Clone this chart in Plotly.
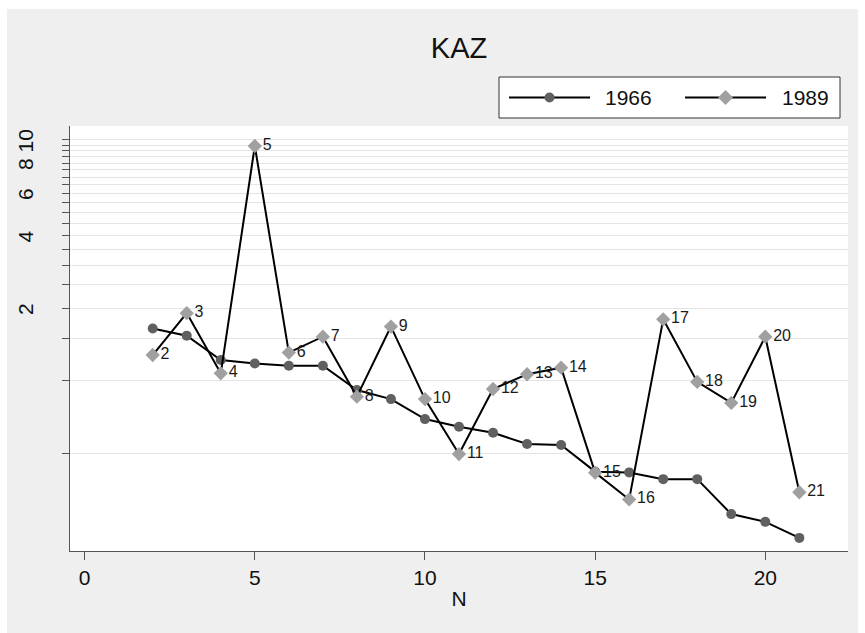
import plotly.graph_objects as go

# ---- data ----
N = list(range(2, 22))
y1966 = [1.65, 1.54, 1.22, 1.18, 1.155, 1.155, 0.916, 0.84, 0.694, 0.645,
         0.609, 0.547, 0.542, 0.42, 0.417, 0.391, 0.391, 0.28, 0.26, 0.223]
y1989 = [1.28, 1.91, 1.075, 9.43, 1.31, 1.525, 0.86, 1.68, 0.84, 0.497,
         0.925, 1.065, 1.134, 0.416, 0.322, 1.80, 0.99, 0.81, 1.525, 0.345]
point_labels = [str(n) for n in N]
series_names = ["1966", "1989"]
title_text = "KAZ"
x_title = "N"
x_ticks = [0, 5, 10, 15, 20]
y_grid = [0.5 * k for k in range(1, 21)]
y_labeled = [2, 4, 6, 8, 10]

FONT = "Liberation Sans, Arial, sans-serif"
C1966 = "#606060"
C1989 = "#a0a0a0"

fig = go.Figure()
fig.add_trace(go.Scatter(
    x=N, y=y1966, name=series_names[0], mode="lines+markers",
    line=dict(color="#000000", width=2),
    marker=dict(symbol="circle", size=10, color=C1966, line=dict(width=0)),
))
fig.add_trace(go.Scatter(
    x=N, y=y1989, name=series_names[1], mode="lines+markers+text",
    text=point_labels, textposition="middle right",
    textfont=dict(family=FONT, size=16, color="#1a1a1a"),
    line=dict(color="#000000", width=2),
    marker=dict(symbol="diamond", size=11, color=C1989, line=dict(width=0)),
))

L, R, T, B = 70, 17, 126, 82
W, H = 865, 633
pw, ph = W - L - R, H - T - B

def px_x(px):
    return (px - L) / pw

def px_y(py):
    return (H - B - py) / ph

# ---- legend drawn by hand (Stata style: line-marker-line, then label) ----
leg_box = (499, 77, 840, 118)
leg_y = 97.5
leg_items = [  # (line start, line end, label x, series index)
    (509, 590, 603, 0),
    (685, 766, 780, 1),
]
shapes = [
    dict(type="rect", xref="paper", yref="paper", layer="below",
         x0=px_x(7), x1=px_x(858), y0=px_y(633), y1=px_y(9),
         fillcolor="#efefef", line=dict(width=0)),
    dict(type="rect", xref="paper", yref="paper", layer="below",
         x0=0, x1=1, y0=0, y1=1,
         fillcolor="white", line=dict(width=0)),
    dict(type="rect", xref="paper", yref="paper", layer="above",
         x0=px_x(leg_box[0]), x1=px_x(leg_box[2]),
         y0=px_y(leg_box[3]), y1=px_y(leg_box[1]),
         fillcolor="white", line=dict(color="#333333", width=1)),
]
annotations = []
for x0, x1, tx, i in leg_items:
    shapes.append(dict(type="line", xref="paper", yref="paper", layer="above",
                       x0=px_x(x0), x1=px_x(x1), y0=px_y(leg_y), y1=px_y(leg_y),
                       line=dict(color="#000000", width=2)))
    cx = (x0 + x1) / 2
    if i == 0:
        r = 5
        shapes.append(dict(type="circle", xref="paper", yref="paper", layer="above",
                           x0=px_x(cx - r), x1=px_x(cx + r),
                           y0=px_y(leg_y + r), y1=px_y(leg_y - r),
                           fillcolor=C1966, line=dict(width=0)))
    else:
        h = 7.5
        pts = [(cx - h, leg_y), (cx, leg_y - h), (cx + h, leg_y), (cx, leg_y + h)]
        path = "M " + " L ".join(f"{px_x(a):.5f},{px_y(b):.5f}" for a, b in pts) + " Z"
        shapes.append(dict(type="path", xref="paper", yref="paper", layer="above",
                           path=path, fillcolor=C1989, line=dict(width=0)))
    annotations.append(dict(text=series_names[i], xref="paper", yref="paper",
                            x=px_x(tx), y=px_y(leg_y), xanchor="left", yanchor="middle",
                            showarrow=False,
                            font=dict(family=FONT, size=21, color="#111111")))

fig.update_layout(
    width=W, height=H,
    margin=dict(l=L, r=R, t=T, b=B, pad=0, autoexpand=False),
    paper_bgcolor="white", plot_bgcolor="white",
    font=dict(family=FONT, size=20, color="#111111"),
    title=dict(text=title_text, xref="container", yref="container",
               x=459 / W, xanchor="center",
               y=1 - 48 / H, yanchor="middle",
               font=dict(family=FONT, size=29, color="#111111")),
    showlegend=False,
    hovermode=False,
    shapes=shapes,
    annotations=annotations,
)

fig.update_xaxes(
    automargin=False,
    range=[-0.43, 22.43], tickvals=x_ticks, ticktext=[str(v) for v in x_ticks],
    showgrid=False, zeroline=False,
    showline=True, linecolor="#555555", linewidth=1.3,
    ticks="outside", ticklen=8, tickcolor="#555555", tickwidth=1.3,
    tickfont=dict(family=FONT, size=21, color="#111111"),
    title=dict(text=x_title, font=dict(family=FONT, size=21, color="#111111"),
               standoff=2),
)
fig.update_yaxes(
    automargin=False,
    type="log", range=[-0.706, 1.0575],
    tickvals=y_grid,
    ticktext=[(str(int(v)) if v in y_labeled else "") for v in y_grid],
    tickangle=-90,
    showgrid=True, gridcolor="#e4e4e4", gridwidth=1.3,
    zeroline=False,
    showline=True, linecolor="#555555", linewidth=1.3,
    ticks="outside", ticklen=7, tickcolor="#555555", tickwidth=1.3,
    tickfont=dict(family=FONT, size=21, color="#111111"),
    ticklabelstandoff=20,
    ticklabelshift=4,
)

fig.write_html("out.html",
               config={"displayModeBar": False},
               post_script="document.body.style.margin='0';document.body.style.padding='0';")
